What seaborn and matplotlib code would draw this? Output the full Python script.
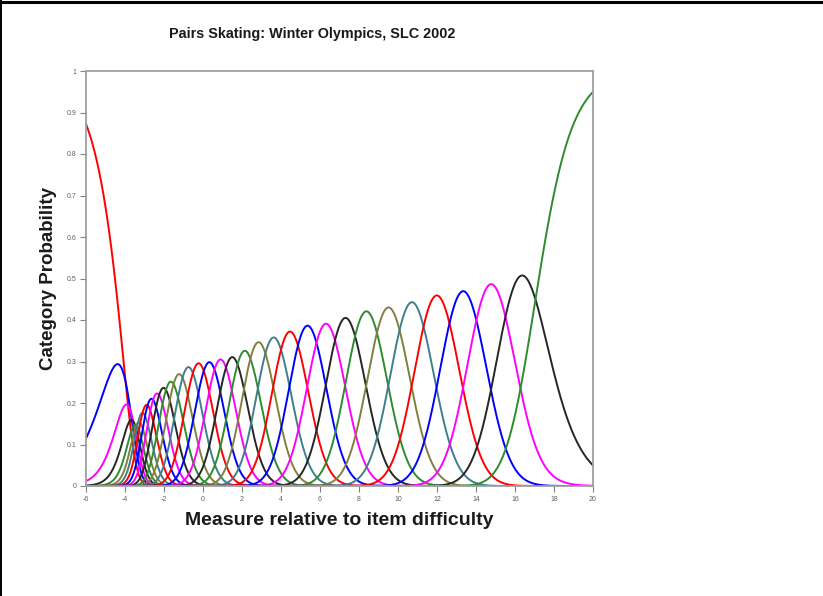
import numpy as np
import pandas as pd
import matplotlib
matplotlib.use("Agg")
import matplotlib.pyplot as plt
import seaborn as sns
from matplotlib.lines import Line2D

thresholds = [-3.97, -3.72, -3.58, -3.49, -3.42, -3.33, -3.10, -2.84, -2.56, -2.25,
              -1.90, -1.51, -1.05, -0.52, 0.04, 0.59, 1.18, 1.77, 2.43, 3.20,
              4.00, 4.87, 5.82, 6.77, 7.80, 8.92, 10.08, 11.31, 12.64, 14.02,
              15.51, 17.05]
category_colors = ["#FF0000", "#0000FF", "#FF00FF", "#262626", "#2E8B2E", "#80803F", "#3F7F8C"]
x_ticks = list(range(-6, 21, 2))
y_ticks = [0, 0.1, 0.2, 0.3, 0.4, 0.5, 0.6, 0.7, 0.8, 0.9, 1]
y_tick_labels = ["0", "0.1", "0.2", "0.3", "0.4", "0.5", "0.6", "0.7", "0.8", "0.9", "1"]

measure = np.linspace(-6, 20, 800)
steps = np.concatenate([[0.0], np.cumsum(thresholds)])
cats = np.arange(len(steps))
logit = np.outer(measure, cats) - steps
logit -= logit.max(axis=1, keepdims=True)
prob = np.exp(logit)
prob /= prob.sum(axis=1, keepdims=True)

df = pd.DataFrame(prob, columns=cats)
df["measure"] = measure
df = df.melt(id_vars="measure", var_name="category", value_name="probability")

sns.set_style("white")
plt.rcParams["font.family"] = ["Liberation Sans", "DejaVu Sans"]

fig = plt.figure(figsize=(8.23, 5.96), dpi=100)
ax = fig.add_axes([86 / 823, 1 - 486 / 596, (593 - 86) / 823, (486 - 71) / 596])

palette = [category_colors[c % len(category_colors)] for c in cats]
sns.lineplot(data=df, x="measure", y="probability", hue="category", palette=palette,
             legend=False, linewidth=1.4, errorbar=None, estimator=None, ax=ax)

ax.set_xlim(-6, 20)
ax.set_ylim(0, 1)
ax.set_xticks(x_ticks)
ax.set_xticklabels([str(t) for t in x_ticks])
ax.set_yticks(y_ticks)
ax.set_yticklabels(y_tick_labels)
ax.tick_params(axis="both", direction="out", length=4, width=0.8, color="#808080",
               labelsize=5, labelcolor="#606060", pad=3)
ax.tick_params(axis="both", bottom=True, left=True)
for s in ax.spines.values():
    s.set_color("#A0A0A0")
    s.set_linewidth(1.3)

ax.set_xlabel("Measure relative to item difficulty", fontsize=14, fontweight="bold",
              color="#1A1A1A", labelpad=7)
ax.set_ylabel("Category Probability", fontsize=13.5, fontweight="bold",
              color="#1A1A1A", labelpad=7)
fig.text(312 / 823, 1 - 34 / 596, "Pairs Skating: Winter Olympics, SLC 2002",
         ha="center", va="center", fontsize=10.4, fontweight="bold", color="#1A1A1A")

# page frame lines at top and left
fig.add_artist(Line2D([0, 1], [1 - 1.5 / 596, 1 - 1.5 / 596], color="black", linewidth=2.2))
fig.add_artist(Line2D([1 / 823, 1 / 823], [0, 1], color="black", linewidth=1.4))

fig.savefig("out.png", dpi=100)
